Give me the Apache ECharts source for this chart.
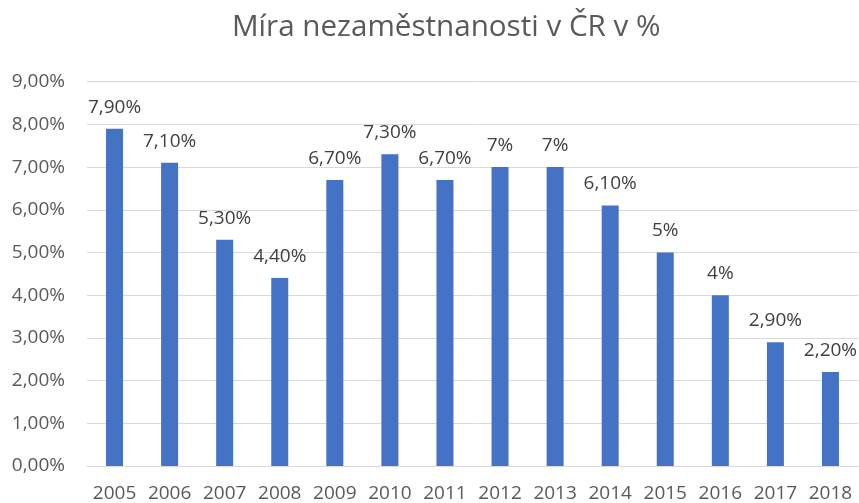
<!DOCTYPE html>
<html>
<head>
<meta charset="utf-8">
<script src="https://cdn.jsdelivr.net/npm/echarts@6/dist/echarts.min.js"></script>
<style>
html,body{margin:0;padding:0;background:#fff;}
#main{width:859px;height:503px;}
</style>
</head>
<body>
<div id="main"></div>
<script>
const categories = ['2005','2006','2007','2008','2009','2010','2011','2012','2013','2014','2015','2016','2017','2018'];
const values = [7.9, 7.1, 5.3, 4.4, 6.7, 7.3, 6.7, 7.0, 7.0, 6.1, 5.0, 4.0, 2.9, 2.2];
const valueLabels = ['7,90%','7,10%','5,30%','4,40%','6,70%','7,30%','6,70%','7%','7%','6,10%','5%','4%','2,90%','2,20%'];
const titleText = 'Míra nezaměstnanosti v ČR v %';

const FONT = '"Open Sans", "Noto Sans", sans-serif';
const chart = echarts.init(document.getElementById('main'), null, {renderer:'canvas'});
chart.setOption({
  backgroundColor: '#ffffff',
  animation: false,
  title: {
    text: titleText,
    left: 227,
    top: 8,
    textStyle: {fontFamily: FONT, fontSize: 29.6, fontWeight: 'normal', color: '#595959'}
  },
  grid: {left: 87, right: 1, top: 81.7, bottom: 37, containLabel: false},
  xAxis: {
    type: 'category',
    data: categories,
    axisLine: {lineStyle: {color: '#d9d9d9', width: 1}},
    axisTick: {show: false},
    axisLabel: {fontFamily: FONT, fontSize: 19, color: '#595959', margin: 18, interval: 0}
  },
  yAxis: {
    type: 'value',
    min: 0, max: 9, interval: 1,
    axisLine: {show: false},
    axisTick: {show: false},
    splitLine: {lineStyle: {color: '#d9d9d9', width: 1}},
    axisLabel: {
      fontFamily: FONT, fontSize: 19, color: '#595959', margin: 22,
      formatter: v => v.toFixed(2).replace('.', ',') + '%'
    }
  },
  series: [{
    type: 'bar',
    data: values,
    barWidth: 17,
    itemStyle: {color: '#4472c4'},
    label: {
      show: true,
      position: 'top',
      distance: 12,
      fontFamily: FONT, fontSize: 19, color: '#404040',
      formatter: p => valueLabels[p.dataIndex]
    }
  }]
});
</script>
</body>
</html>
